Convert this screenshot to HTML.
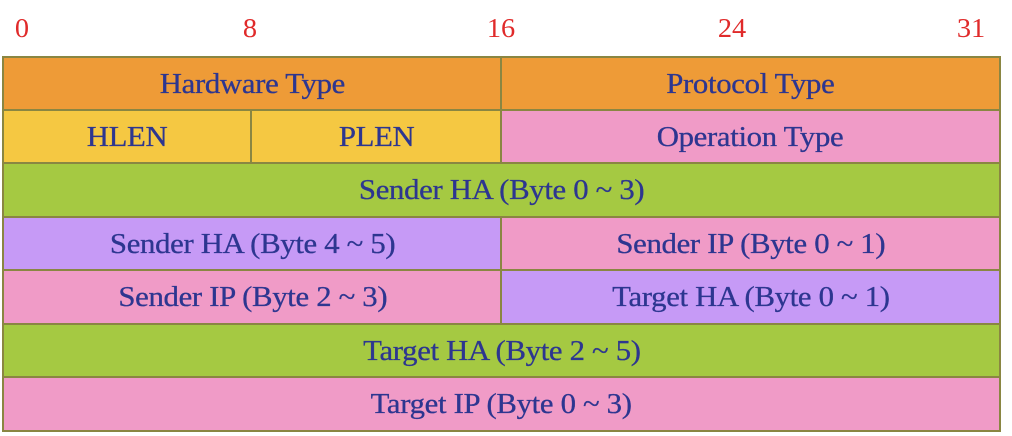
<!DOCTYPE html>
<html><head><style>
body{margin:0;width:1012px;height:436px;background:#fff;position:relative;overflow:hidden;font-family:"Liberation Serif",serif}
.n{position:absolute;top:13px;color:#e02a2a;font-size:27px;transform:translateX(-50%) scaleX(1.05)}
.c{position:absolute;box-sizing:border-box;border:2px solid #8a8642;display:flex;align-items:center;justify-content:center;color:#2d3690;font-size:29px;letter-spacing:-0.3px}
.c span{display:inline-block;transform:scaleX(1.06);white-space:nowrap;-webkit-text-stroke:0.3px #2d3690}
.o{background:#ee9b37}.y{background:#f5c842}.g{background:#a5c942}.p{background:#c69af6}.k{background:#f09bc7}
</style></head><body>
<div class="n" style="left:22px">0</div>
<div class="n" style="left:250px">8</div>
<div class="n" style="left:501px">16</div>
<div class="n" style="left:732px">24</div>
<div class="n" style="left:971px">31</div>

<div class="c o" style="left:2px;top:56px;width:501px;height:56px"><span>Hardware Type</span></div>
<div class="c o" style="left:500px;top:56px;width:501px;height:56px"><span>Protocol Type</span></div>
<div class="c y" style="left:2px;top:109px;width:251px;height:56px"><span>HLEN</span></div>
<div class="c y" style="left:250px;top:109px;width:253px;height:56px"><span>PLEN</span></div>
<div class="c k" style="left:500px;top:109px;width:501px;height:56px"><span>Operation Type</span></div>
<div class="c g" style="left:2px;top:162px;width:999px;height:57px"><span>Sender HA (Byte 0 ~ 3)</span></div>
<div class="c p" style="left:2px;top:216px;width:501px;height:56px"><span>Sender HA (Byte 4 ~ 5)</span></div>
<div class="c k" style="left:500px;top:216px;width:501px;height:56px"><span>Sender IP (Byte 0 ~ 1)</span></div>
<div class="c k" style="left:2px;top:269px;width:501px;height:57px"><span>Sender IP (Byte 2 ~ 3)</span></div>
<div class="c p" style="left:500px;top:269px;width:501px;height:57px"><span>Target HA (Byte 0 ~ 1)</span></div>
<div class="c g" style="left:2px;top:323px;width:999px;height:56px"><span>Target HA (Byte 2 ~ 5)</span></div>
<div class="c k" style="left:2px;top:376px;width:999px;height:56px"><span>Target IP (Byte 0 ~ 3)</span></div>
</body></html>
